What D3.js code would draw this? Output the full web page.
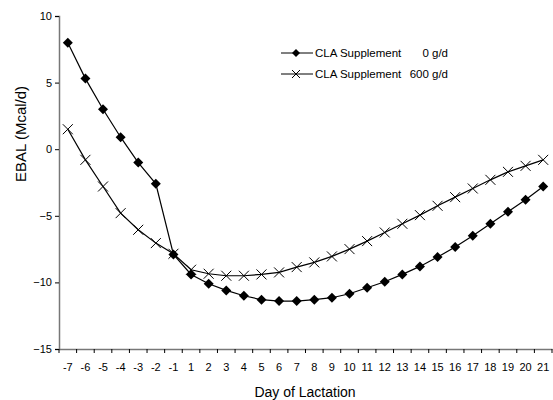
<!DOCTYPE html>
<html lang="en">
<head>
<meta charset="UTF-8" />
<title>EBAL by Day of Lactation</title>
<style>
  html, body { margin: 0; padding: 0; background: #fff; }
  svg { display: block; font-family: "Liberation Sans", Arial, sans-serif; }
</style>
</head>
<body>
<script src="https://d3js.org/d3.v7.min.js"></script>
<script>
const days = ["-7","-6","-5","-4","-3","-2","-1","1","2","3","4","5","6","7","8","9","10",
  "11","12","13","14","15","16","17","18","19","20","21"];
const cla0 = [8.0, 5.3, 3.0, 0.9, -1.0, -2.6, -7.9, -9.4, -10.1, -10.6, -11.0, -11.3, -11.4, -11.4,
  -11.3, -11.15, -10.85, -10.4, -9.95, -9.4, -8.8, -8.1, -7.35, -6.5, -5.6, -4.7, -3.8, -2.8];
const cla600 = [1.5, -0.8, -2.8, -4.8, -6.05, -7.05, -7.85, -9.05, -9.35, -9.5, -9.5, -9.4, -9.25,
  -8.85, -8.5, -8.05, -7.5, -6.9, -6.25, -5.6, -4.95, -4.25, -3.6, -2.95, -2.3, -1.7, -1.25, -0.8];
const yTicks = [10, 5, 0, -5, -10, -15];
const legendLabels = [["CLA Supplement", "0 g/d"], ["CLA Supplement", "600 g/d"]];

const width = 553, height = 400;
const mLeft = 59, mRight = 552, mTop = 16, mBottom = 349;

const svg = d3.select("body").append("svg")
  .attr("width", width).attr("height", height);

const x = d3.scaleBand().domain(days).range([mLeft, mRight]);
const y = d3.scaleLinear().domain([-15, 10]).range([mBottom, mTop]);
const cx = d => x(d) + x.bandwidth() / 2;

// y axis
svg.append("g").attr("transform", `translate(${mLeft},0)`)
  .call(d3.axisLeft(y).tickValues(yTicks).tickSize(4).tickPadding(3));
// x axis, ticks between categories
const gx = svg.append("g").attr("transform", `translate(0,${mBottom})`)
  .call(d3.axisBottom(x).tickSize(0).tickPadding(14));
gx.selectAll(".tick").append("line")
  .attr("x1", -x.bandwidth() / 2).attr("x2", -x.bandwidth() / 2)
  .attr("y1", 0).attr("y2", 4);
gx.append("line").attr("x1", mRight).attr("x2", mRight)
  .attr("y1", 0).attr("y2", 4).attr("stroke", "#000");

svg.selectAll(".domain").attr("stroke", "#777").attr("stroke-width", 1.5);
svg.selectAll(".tick line").attr("stroke", "#000");
svg.selectAll(".tick text").attr("font-size", 11).attr("fill", "#000")
  .attr("font-family", "'Liberation Sans', Arial, sans-serif");

// titles
svg.append("text").attr("x", 305).attr("y", 397).attr("text-anchor", "middle")
  .attr("font-size", 14).text("Day of Lactation");
svg.append("text").attr("transform", "translate(26,134) rotate(-90)").attr("text-anchor", "middle")
  .attr("font-size", 15).text("EBAL (Mcal/d)");

const line = d3.line().x((d, i) => cx(days[i])).y(d => y(d));
const plot = svg.append("g");

plot.append("path").datum(cla0).attr("d", line).attr("fill", "none").attr("stroke", "#000").attr("stroke-width", 1.2);
plot.append("path").datum(cla600).attr("d", line).attr("fill", "none").attr("stroke", "#000").attr("stroke-width", 1.2);

const diamond = s => `M0,${-s}L${s},0L0,${s}L${-s},0Z`;
const cross = s => `M${-s},${-s}L${s},${s}M${-s},${s}L${s},${-s}`;

plot.selectAll(".d0").data(cla0).join("path")
  .attr("transform", (d, i) => `translate(${cx(days[i])},${y(d)})`)
  .attr("d", diamond(5)).attr("fill", "#000");
plot.selectAll(".d600").data(cla600).join("path")
  .attr("transform", (d, i) => `translate(${cx(days[i])},${y(d)})`)
  .attr("d", cross(5)).attr("fill", "none").attr("stroke", "#000").attr("stroke-width", 1);

// legend
const lg = svg.append("g").attr("font-size", 11.5);
legendLabels.forEach((lab, i) => {
  const ly = 53 + i * 21;
  lg.append("line").attr("x1", 281).attr("x2", 313).attr("y1", ly).attr("y2", ly).attr("stroke", "#000");
  if (i === 0) lg.append("path").attr("transform", `translate(296,${ly})`).attr("d", diamond(4)).attr("fill", "#000");
  else lg.append("path").attr("transform", `translate(296,${ly})`).attr("d", cross(4)).attr("fill", "none").attr("stroke", "#000");
  lg.append("text").attr("x", 315).attr("y", ly + 4).text(lab[0]);
  lg.append("text").attr("x", 448).attr("y", ly + 4).attr("text-anchor", "end").text(lab[1]);
});
</script>
</body>
</html>
